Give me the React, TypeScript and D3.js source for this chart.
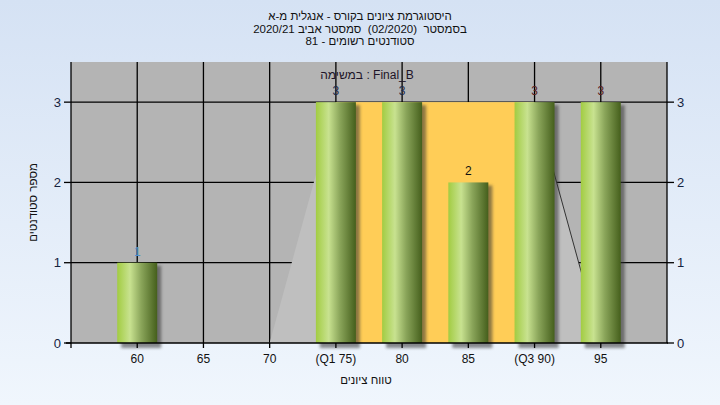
import React from 'react';
import * as d3 from 'd3';

// grades and number of students per grade
const grades = [60, 65, 70, 75, 80, 85, 90, 95];
const gradeLabels = ['60', '65', '70', '(Q1 75)', '80', '85', '(Q3 90)', '95'];
const counts = [1, 0, 0, 3, 3, 2, 3, 3];
const yTicks = [0, 1, 2, 3];

// background distribution shape and quartile band
const areaPoints: [number, number][] = [[70, 0], [75, 3], [90, 3], [95, 0]];
const quartileBand = { from: 75, to: 90, height: 3 };

const titleLines = [
  'היסטוגרמת ציונים בקורס - אנגלית מ-א',
  'בסמסטר\u00a0\u00a0(02/2020)\u00a0\u00a0סמסטר אביב 2020/21',
  'סטודנטים רשומים - 81',
];
const legendText = 'במשימה : Final_B';
const xTitle = 'טווח ציונים';
const yTitle = 'מספר סטודנטים';

const labelColors = ['#4a8fd0', '#222', '#222', '#1c2a4a', '#1c2a4a', '#111', '#5a1e1e', '#5a1e1e'];

const W = 720;
const H = 405;
const plot = { left: 71, right: 667, top: 62, bottom: 343 };
const font = '"Liberation Sans", Arial, sans-serif';

export default function App() {
  const x = d3.scaleLinear().domain([55, 100]).range([plot.left, plot.right]);
  const y = d3.scaleLinear().domain([0, 3.5]).range([plot.bottom, plot.top]);
  const barW = 40;

  const area = d3
    .area<[number, number]>()
    .x((d) => x(d[0]))
    .y0(y(0))
    .y1((d) => y(d[1]));

  const rightLine = d3
    .line<[number, number]>()
    .x((d) => x(d[0]))
    .y((d) => y(d[1]));

  return (
    <svg width={W} height={H} style={{ position: 'absolute', left: 0, top: 0 }} fontFamily={font}>
      <defs>
        <linearGradient id="bg" x1="0" y1="0" x2="0" y2="1">
          <stop offset="0" stopColor="#d5e2f4" />
          <stop offset="1" stopColor="#f0f6fd" />
        </linearGradient>
        <linearGradient id="bar" x1="0" y1="0" x2="1" y2="0">
          <stop offset="0" stopColor="#a2cc42" />
          <stop offset="0.32" stopColor="#c8e290" />
          <stop offset="0.6" stopColor="#8aa55a" />
          <stop offset="1" stopColor="#455f1c" />
        </linearGradient>
        <filter id="shadow" x="-30%" y="-30%" width="160%" height="160%">
          <feGaussianBlur stdDeviation="1.6" />
        </filter>
      </defs>

      <rect x={0} y={0} width={W} height={H} fill="url(#bg)" />

      {/* plot background */}
      <rect x={plot.left} y={plot.top} width={plot.right - plot.left} height={plot.bottom - plot.top} fill="#b4b4b4" />

      {/* grid */}
      {grades.map((g) => (
        <line key={'vg' + g} x1={x(g)} x2={x(g)} y1={plot.top} y2={plot.bottom} stroke="#000" strokeWidth={1.3} />
      ))}
      {yTicks.slice(1).map((t) => (
        <line key={'hg' + t} x1={plot.left} x2={plot.right} y1={y(t)} y2={y(t)} stroke="#000" strokeWidth={1.3} />
      ))}

      {/* distribution area and quartile band */}
      <path d={area(areaPoints) || ''} fill="#bfbfbf" />
      <rect
        x={x(quartileBand.from)}
        y={y(quartileBand.height)}
        width={x(quartileBand.to) - x(quartileBand.from)}
        height={y(0) - y(quartileBand.height)}
        fill="#ffcd57"
      />
      <path d={rightLine(areaPoints.slice(2)) || ''} fill="none" stroke="#333" strokeWidth={1} />

      {/* bars */}
      {grades.map((g, i) =>
        counts[i] > 0 ? (
          <g key={'b' + g}>
            <rect
              x={x(g) - barW / 2 + 4}
              y={y(counts[i]) + 3}
              width={barW}
              height={y(0) - y(counts[i]) + 2}
              fill="#333"
              opacity={0.55}
              filter="url(#shadow)"
            />
            <rect x={x(g) - barW / 2} y={y(counts[i])} width={barW} height={y(0) - y(counts[i])} fill="url(#bar)" />
          </g>
        ) : null
      )}

      {/* value labels */}
      {grades.map((g, i) =>
        counts[i] > 0 ? (
          <text key={'v' + g} x={x(g)} y={y(counts[i]) - 7} textAnchor="middle" fontSize={12} fill={labelColors[i]}>
            {counts[i]}
          </text>
        ) : null
      )}

      {/* axes */}
      <line x1={plot.left} x2={plot.left} y1={plot.top} y2={plot.bottom} stroke="#000" strokeWidth={1.3} />
      <line x1={plot.right} x2={plot.right} y1={plot.top} y2={plot.bottom} stroke="#000" strokeWidth={1.3} />
      <line x1={plot.left - 5} x2={plot.right + 1} y1={plot.bottom} y2={plot.bottom} stroke="#000" strokeWidth={1.3} />
      {yTicks.map((t) => (
        <g key={'yt' + t}>
          <line x1={plot.left - 7} x2={plot.left} y1={y(t)} y2={y(t)} stroke="#000" strokeWidth={1.3} />
          <line x1={plot.right} x2={plot.right + 7} y1={y(t)} y2={y(t)} stroke="#000" strokeWidth={1.3} />
          <text x={plot.left - 10} y={y(t) + 4.5} textAnchor="end" fontSize={13} fill="#15233f">
            {t}
          </text>
          <text x={plot.right + 10} y={y(t) + 4.5} textAnchor="start" fontSize={13} fill="#15233f">
            {t}
          </text>
        </g>
      ))}
      {[55, ...grades].map((g) => (
        <line key={'xt' + g} x1={x(g)} x2={x(g)} y1={plot.bottom} y2={plot.bottom + 5} stroke="#000" strokeWidth={1.3} />
      ))}
      {grades.map((g, i) => (
        <text key={'xl' + g} x={x(g)} y={plot.bottom + 20} textAnchor="middle" fontSize={12} fill="#111">
          {gradeLabels[i]}
        </text>
      ))}

      {/* titles */}
      {titleLines.map((t, i) => (
        <text key={'t' + i} x={W / 2} y={20 + i * 12.5} textAnchor="middle" fontSize={11.5} fill="#111" direction="rtl">
          {t}
        </text>
      ))}
      <text x={367} y={79} textAnchor="middle" fontSize={12} fill="#1e1428" direction="ltr">
        {legendText}
      </text>
      <text x={366} y={384} textAnchor="middle" fontSize={11.5} fill="#111" direction="rtl">
        {xTitle}
      </text>
      <text
        transform={`translate(37,${(plot.top + plot.bottom) / 2}) rotate(-90)`}
        textAnchor="middle"
        fontSize={11.5}
        fill="#111"
        direction="rtl"
      >
        {yTitle}
      </text>
    </svg>
  );
}
